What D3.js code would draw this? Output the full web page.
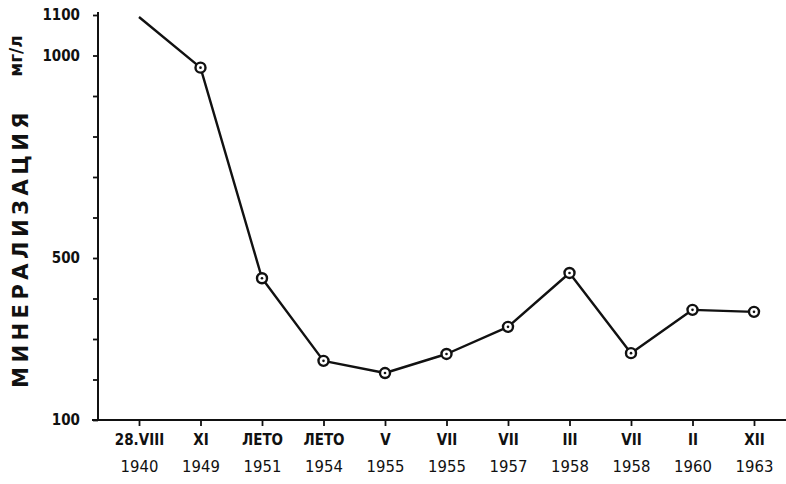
<!DOCTYPE html>
<html><head><meta charset="utf-8">
<script src="https://cdn.jsdelivr.net/npm/d3@7"></script>
<style>body{margin:0;background:#fff}svg{display:block}</style>
</head><body>
<svg id="c" width="786" height="484"></svg>
<script>
const periods = ["28.VIII","XI","ЛЕТО","ЛЕТО","V","VII","VII","III","VII","II","XII"];
const years = ["1940","1949","1951","1954","1955","1955","1957","1958","1958","1960","1963"];
const values = [1095,970,450,246,216,263,330,463,265,372,367];
const yTicks = [100,200,300,400,500,600,700,800,900,1000,1100];
const yLabeled = [100,500,1000,1100];

const svg = d3.select("#c");
const keys = periods.map((p,i)=>i);
const x = d3.scalePoint().domain(keys).range([139,754]);
const y = d3.scaleLinear().domain([100,1100]).range([420,15]);
const font = "'DejaVu Sans Condensed','DejaVu Sans',sans-serif";

// axes
const yAxis = svg.append("g").attr("transform","translate(98,0)")
  .call(d3.axisLeft(y).tickValues(yTicks).tickSize(5).tickPadding(8)
    .tickFormat(d=>yLabeled.includes(d)?String(d):""));
yAxis.select(".domain").attr("d","M0,12V420").attr("stroke","#111").attr("stroke-width",2);
yAxis.selectAll(".tick line").attr("stroke","#111").attr("stroke-width",1.8);
yAxis.selectAll(".tick text").attr("font-family",font).attr("font-weight","bold")
  .attr("font-size",15).attr("fill","#111").attr("x",-18).attr("text-anchor","end");

const xAxis = svg.append("g").attr("transform","translate(0,420)")
  .call(d3.axisBottom(x).tickSize(6).tickFormat(""));
xAxis.select(".domain").attr("d","M92,0H786").attr("stroke","#111").attr("stroke-width",2);
xAxis.selectAll(".tick line").attr("stroke","#111").attr("stroke-width",1.8);
xAxis.selectAll(".tick").each(function(d){
  const g = d3.select(this);
  g.append("text").attr("y",25).attr("text-anchor","middle").attr("font-family",font)
    .attr("font-size",15).attr("fill","#111").attr("font-weight","bold").text(periods[d]);
  g.append("text").attr("y",52).attr("text-anchor","middle").attr("font-family",font)
    .attr("font-size",16.5).attr("fill","#111").text(years[d]);
});

// y title
svg.append("text").attr("transform","translate(28,248) rotate(-90)")
  .attr("text-anchor","middle").attr("font-family","'DejaVu Sans',sans-serif")
  .attr("font-size",21).attr("font-weight","bold").attr("letter-spacing",4.5)
  .attr("fill","#111").text("МИНЕРАЛИЗАЦИЯ");
svg.append("text").attr("transform","translate(22,56) rotate(-90)")
  .attr("text-anchor","middle").attr("font-family","'DejaVu Sans',sans-serif")
  .attr("font-size",17).attr("font-weight","bold").attr("fill","#111").text("мг/л");

// line
const line = d3.line().x((d,i)=>x(i)).y(d=>y(d));
svg.append("path").datum(values).attr("d",line).attr("fill","none")
  .attr("stroke","#111").attr("stroke-width",2.4).attr("stroke-linejoin","round");

// markers (no marker on the first truncated point)
const pts = svg.append("g").selectAll("g").data(values.slice(1)).join("g")
  .attr("transform",(d,i)=>`translate(${x(i+1)},${y(d)})`);
pts.append("circle").attr("r",5).attr("fill","#fff").attr("stroke","#111").attr("stroke-width",2.4);
pts.append("circle").attr("r",1.3).attr("fill","#111");
</script>
</body></html>
